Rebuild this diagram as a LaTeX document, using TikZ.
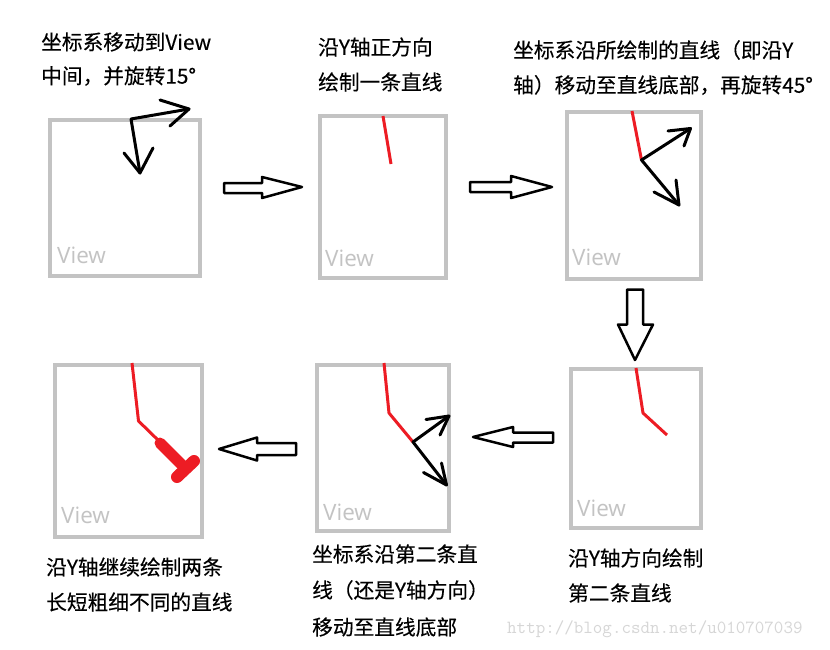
\documentclass[tikz,border=0pt]{standalone}
\usepackage{fontspec}
\newfontfamily\cjk[FakeBold=0.25]{Noto Sans CJK SC}
\newfontfamily\viewfont{Open Sans}
\definecolor{viewgray}{HTML}{C3C3C3}
\definecolor{pred}{HTML}{ED1C24}
\definecolor{wmgray}{HTML}{D6D6D6}
\begin{document}
\begin{tikzpicture}[x=1pt,y=-1pt,
  view/.style={draw=viewgray, line width=4pt},
  viewlbl/.style={text=viewgray, font=\viewfont\fontsize{22.5}{22.5}\selectfont, anchor=base west, inner sep=0pt},
  lbl/.style={font=\cjk\fontsize{20.7}{20.7}\selectfont, anchor=west, inner sep=0pt},
  redline/.style={draw=pred, line width=3pt, line join=round},
  axis/.style={draw=black, line width=3pt, line cap=round, line join=round},
  fat/.style={draw=black, line width=2.5pt, fill=white, line join=round}]
\useasboundingbox[fill=white] (0,0) rectangle (830,650);

% ---------- panel 1 ----------
\draw[view] (50,120) rectangle (200,276);
\node[viewlbl] (v1) at (57,263) {View};
\coordinate (o1) at (131,119);
\coordinate (x1) at (189,109);
\coordinate (y1) at (140,173);
\draw[axis] (x1) -- (o1) -- (y1);
\draw[axis] (160,100) -- (x1) -- (170,126);
\draw[axis] (124,153) -- (y1) -- (153,148);
\node[lbl] (t1a) at (41,42) {坐标系移动到View};
\node[lbl] (t1b) at (41,76) {中间，并旋转15°};

% ---------- panel 2 ----------
\draw[view] (319.5,116) rectangle (445.5,278);
\node[viewlbl] (v2) at (325,266) {View};
\draw[redline] (383,116) -- (391,164);
\node[lbl] (t2a) at (318,47) {沿Y轴正方向};
\node[lbl] (t2b) at (318,82) {绘制一条直线};

% ---------- panel 3 ----------
\draw[view] (567,112) rectangle (700.5,279);
\node[viewlbl] (v3) at (572,265) {View};
\draw[redline] (632,111) -- (641.5,160);
\coordinate (o3) at (641.5,160);
\coordinate (x3) at (690.5,128.5);
\coordinate (y3) at (679,205);
\draw[axis] (x3) -- (o3) -- (y3);
\draw[axis] (668,131) -- (x3) -- (684,146);
\draw[axis] (654,192) -- (y3) -- (676,180);
\node[lbl] (t3a) at (513,50) {坐标系沿所绘制的直线（即沿Y};
\node[lbl] (t3b) at (513,85) {轴）移动至直线底部，再旋转45°};

% ---------- panel 4 ----------
\draw[view] (571,369) rectangle (700.5,528);
\node[viewlbl] (v4) at (577,516) {View};
\draw[redline] (636,368) -- (643,413) -- (667,435);
\node[lbl] (t4a) at (568,558) {沿Y轴方向绘制};
\node[lbl] (t4b) at (568,593) {第二条直线};

% ---------- panel 5 ----------
\draw[view] (317,364.5) rectangle (449,530.5);
\node[viewlbl] (v5) at (323,520) {View};
\draw[redline] (384,363) -- (389,413) -- (413,442);
\coordinate (o5) at (413,442);
\coordinate (x5) at (449,416);
\coordinate (y5) at (446.5,485);
\draw[axis] (x5) -- (o5) -- (y5);
\draw[axis] (426,419.5) -- (x5) -- (440,435);
\draw[axis] (423.5,472.5) -- (y5) -- (441.5,463);
\node[lbl] (t5a) at (312,554) {坐标系沿第二条直};
\node[lbl] (t5b) at (312,590) {线（还是Y轴方向）};
\node[lbl] (t5c) at (312,627) {移动至直线底部};

% ---------- panel 6 ----------
\draw[view] (54.5,365) rectangle (201.5,536.5);
\node[viewlbl] (v6) at (61,523) {View};
\draw[redline] (132,363) -- (138.5,421) -- (160,442);
\draw[draw=pred, line width=11pt, line cap=round] (160,443) -- (184,467);
\draw[draw=pred, line width=12pt, line cap=round] (194,461) -- (177,477);
\node[lbl] (t6a) at (46,567) {沿Y轴继续绘制两条};
\node[lbl] (t6b) at (46,602) {长短粗细不同的直线};

% ---------- fat arrows ----------
\draw[fat] (224,183) -- (262,183) -- (262,177) -- (302,187) -- (262,198) -- (262,193) -- (224,193) -- cycle;
\draw[fat] (470,182) -- (511,182) -- (511,176) -- (552,187) -- (511,198) -- (511,192) -- (470,192) -- cycle;
\draw[fat] (627,289.5) -- (643,289.5) -- (643,324.5) -- (653,324.5) -- (635,360) -- (618,324.5) -- (627,324.5) -- cycle;
\draw[fat] (553,432.5) -- (513,432.5) -- (513,427) -- (473,437) -- (513,447) -- (513,442.5) -- (553,442.5) -- cycle;
\draw[fat] (296,443) -- (257,443) -- (257,437.5) -- (219,449) -- (257,460.5) -- (257,455) -- (296,455) -- cycle;

% ---------- watermark ----------
\node[font=\ttfamily\fontsize{18.5}{18.5}\selectfont, text=wmgray, anchor=west, inner sep=0pt] (wm) at (507,629) {http://blog.csdn.net/u010707039};
\end{tikzpicture}
\end{document}
